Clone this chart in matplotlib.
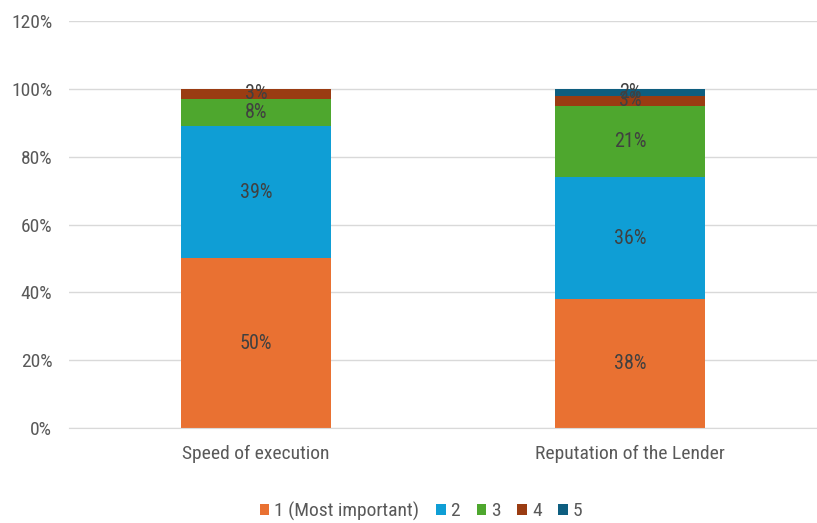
import matplotlib.pyplot as plt
import numpy as np

categories = ["Speed of execution", "Reputation of the Lender"]
series_names = ["1 (Most important)", "2", "3", "4", "5"]
values = [
    [50, 38],
    [39, 36],
    [8, 21],
    [3, 3],
    [0, 2],
]
colors = ["#E97132", "#0F9ED5", "#4EA72E", "#9A3C12", "#0E5E80"]
yticks = [0, 20, 40, 60, 80, 100, 120]

plt.rcParams['font.family'] = ['Roboto Condensed', 'Archivo Narrow', 'DejaVu Sans']

fig = plt.figure(figsize=(8.17, 5.23), dpi=100)
ax = fig.add_axes([69 / 817, 1 - 428 / 523, 1 - 69 / 817, (428 - 21) / 523])

x = np.arange(len(categories))
bottom = np.zeros(len(categories))
handles = []
for name, vals, col in zip(series_names, values, colors):
    vals = np.array(vals, dtype=float)
    b = ax.bar(x, vals, 0.4, bottom=bottom, color=col, label=name, zorder=2)
    handles.append(b)
    for xi, v, bt in zip(x, vals, bottom):
        if v > 0:
            ax.text(xi, bt + v / 2, f"{v:.0f}%", ha="center", va="center",
                    fontsize=14.5, color="#404040", zorder=3)
    bottom += vals

ax.set_xlim(-0.5, 1.5)
ax.set_ylim(0, 120)
ax.set_yticks(yticks)
ax.set_yticklabels([f"{t}%" for t in yticks])
ax.set_xticks(x)
ax.set_xticklabels(categories)
ax.tick_params(axis="y", length=0, pad=12, labelsize=14, labelcolor="#595959")
ax.tick_params(axis="x", length=0, pad=12, labelsize=14, labelcolor="#595959")
ax.grid(axis="y", color="#D9D9D9", linewidth=1, zorder=0)
for s in ["top", "right", "left"]:
    ax.spines[s].set_visible(False)
ax.spines["bottom"].set_color("#D9D9D9")

fig.legend(handles=handles, loc="center", bbox_to_anchor=(421 / 817, 1 - 511 / 523),
           ncol=5, frameon=False, fontsize=14, labelcolor="#595959",
           handlelength=0.5, handleheight=0.5, handletextpad=0.25, columnspacing=0.85)

fig.savefig("out.png", dpi=100)
